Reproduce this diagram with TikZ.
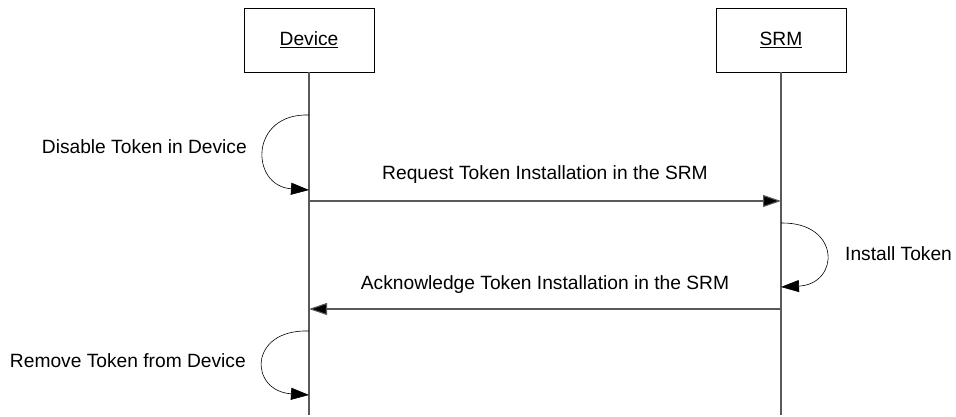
\documentclass[tikz,border=0pt]{standalone}
\usepackage{fontspec}
\setmainfont{Liberation Sans}
\usetikzlibrary{arrows.meta,positioning,calc}

\begin{document}
\begin{tikzpicture}[x=1pt, y=-1pt,
    every node/.style={font=\fontsize{19.2}{23}\selectfont, inner sep=0pt},
    actor/.style={draw, line width=0.8pt, minimum width=130pt, minimum height=64pt},
    life/.style={draw=black!65, line width=1.1pt},
    msg/.style={draw=black!65, line width=1.1pt, -{Triangle[length=18pt,width=12pt,fill=black]}},
    loopy/.style={draw, line width=0.6pt, -{Triangle[length=18pt,width=12pt]}}]
\useasboundingbox (0,0) rectangle (956,417);

% Actors
\node[actor] (dev) at (309,40) {\underline{Device}};
\node[actor] (srm) at (781,40) {\underline{SRM}};

% Lifelines
\coordinate (devend) at (309,415);
\coordinate (srmend) at (781,415);
\draw[life] (dev.south) -- (devend);
\draw[life] (srm.south) -- (srmend);

% Points on the lifelines
\coordinate (d1) at (309,115);
\coordinate (d2) at (309,190);
\coordinate (d3) at (309,201);
\coordinate (s3) at (781,201);
\coordinate (s4) at (781,223);
\coordinate (s5) at (781,287);
\coordinate (s6) at (781,309);
\coordinate (d6) at (309,309);
\coordinate (d7) at (309,331);
\coordinate (d8) at (309,395);

% Disable token
\draw[loopy] (d1) .. controls (249,113) and (250,186) .. (d2);
\node[anchor=east] (disable) at (247,147) {Disable Token in Device};

% Request
\draw[msg] (d3) -- node[above=17pt] (request) {Request Token Installation in the SRM} (s3);

% Install token
\draw[loopy] (s4) .. controls (841,222) and (840,284) .. (s5);
\node[anchor=west] (install) at (845,254) {Install Token};

% Acknowledge
\draw[msg] (s6) -- node[above=15pt] (ack) {Acknowledge Token Installation in the SRM} (d6);

% Remove token
\draw[loopy] (d7) .. controls (248,329) and (249,391) .. (d8);
\node[anchor=east] (remove) at (246,361) {Remove Token from Device};
\end{tikzpicture}
\end{document}
